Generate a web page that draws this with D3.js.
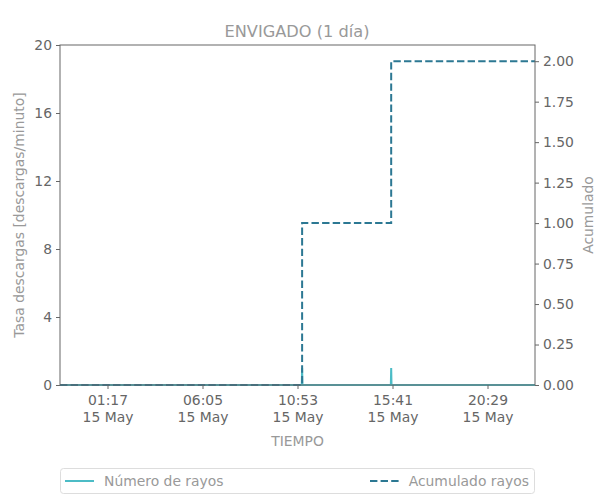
<!DOCTYPE html>
<html><head><meta charset="utf-8">
<script src="https://cdn.jsdelivr.net/npm/d3@7"></script>
<style>body{margin:0;background:#fff}svg, svg text{font-family:"DejaVu Sans",sans-serif}</style>
</head><body><svg id="c" width="600" height="500"></svg>
<script>
const title = "ENVIGADO (1 día)";
const domainTimes = ["2024-05-14T22:53", "2024-05-15T22:53"];
const rateTimes = ["2024-05-14T22:53","2024-05-15T11:06","2024-05-15T11:07","2024-05-15T11:08","2024-05-15T15:36","2024-05-15T15:37","2024-05-15T15:38","2024-05-15T22:53"];
const rateValues = [0,0,1,0,0,1,0,0];
const cumTimes = ["2024-05-14T22:53","2024-05-15T11:07","2024-05-15T15:37","2024-05-15T22:53"];
const cumValues = [0,1,2,2];
const xTickTimes = ["2024-05-15T01:17","2024-05-15T06:05","2024-05-15T10:53","2024-05-15T15:41","2024-05-15T20:29"];
const leftTicks = [0,4,8,12,16,20];
const rightTicks = [0,0.25,0.5,0.75,1,1.25,1.5,1.75,2];
const seriesNames = ["Número de rayos","Acumulado rayos"];

const parse = d3.timeParse("%Y-%m-%dT%H:%M");
const svg = d3.select("#c");
const FF = "DejaVu Sans";
const FS = "13.9px";
const m = {l:60, r:535, t:45, b:385};
const x = d3.scaleTime().domain(domainTimes.map(parse)).range([m.l, m.r]);
const yL = d3.scaleLinear().domain([0,20]).range([m.b, m.t]);
const yR = d3.scaleLinear().domain([0,2.1]).range([m.b, m.t]);
const axisCol = "#666", textCol = "#666", labCol = "#999";
const c1 = "#4cbcc6", c2 = "#2c7893";
const dash = "7.4,3.2";

// lines
const rate = rateTimes.map((t,i)=>({t:parse(t), v:rateValues[i]}));
const cum = cumTimes.map((t,i)=>({t:parse(t), v:cumValues[i]}));
svg.append("path").datum(rate).attr("fill","none").attr("stroke",c1).attr("stroke-width",2)
  .attr("d", d3.line().x(d=>x(d.t)).y(d=>yL(d.v)));
svg.append("path").datum(cum).attr("fill","none").attr("stroke",c2).attr("stroke-width",2)
  .attr("stroke-dasharray",dash)
  .attr("d", d3.line().curve(d3.curveStepAfter).x(d=>x(d.t)).y(d=>yR(d.v)));

// frame
svg.append("rect").attr("x",m.l).attr("y",m.t).attr("width",m.r-m.l).attr("height",m.b-m.t)
  .attr("fill","none").attr("stroke",axisCol).attr("stroke-width",1);

function style(g){
  g.attr("font-family",FF).attr("font-size",null);
  g.select(".domain").remove();
  g.selectAll(".tick line").attr("stroke",axisCol);
  g.selectAll(".tick text").attr("fill",textCol).style("font-size",FS).style("font-family",FF);
}
const fmtL = d3.format("d"), fmtR = d3.format(".2f");
svg.append("g").attr("transform",`translate(${m.l},0)`)
  .call(d3.axisLeft(yL).tickValues(leftTicks).tickFormat(fmtL).tickSize(4).tickPadding(4)).call(style);
svg.append("g").attr("transform",`translate(${m.r},0)`)
  .call(d3.axisRight(yR).tickValues(rightTicks).tickFormat(fmtR).tickSize(4).tickPadding(4)).call(style);
const fmtT = d3.timeFormat("%H:%M"), fmtD = d3.timeFormat("%d %b");
const gx = svg.append("g").attr("transform",`translate(0,${m.b})`)
  .call(d3.axisBottom(x).tickValues(xTickTimes.map(parse)).tickFormat("").tickSize(4));
style(gx);
gx.selectAll(".tick").each(function(d){
  const t = d3.select(this);
  t.append("text").attr("y",20).attr("text-anchor","middle").attr("fill",textCol).style("font-size",FS).style("font-family",FF).text(fmtT(d));
  t.append("text").attr("y",37).attr("text-anchor","middle").attr("fill",textCol).style("font-size",FS).style("font-family",FF).text(fmtD(d));
});

function txt(){ return svg.append("text").style("font-family",FF).attr("fill",labCol).style("font-size",FS); }
// titles
txt().attr("x",297).attr("y",37).attr("text-anchor","middle").style("font-size","16.2px").text(title);
txt().attr("x",(m.l+m.r)/2).attr("y",446).attr("text-anchor","middle").text("TIEMPO");
txt().attr("transform",`translate(24,${(m.t+m.b)/2}) rotate(-90)`).attr("text-anchor","middle")
  .text("Tasa descargas [descargas/minuto]");
txt().attr("transform",`translate(593,${(m.t+m.b)/2}) rotate(-90)`).attr("text-anchor","middle")
  .text("Acumulado");

// legend
svg.append("rect").attr("x",60.5).attr("y",468.5).attr("width",474).attr("height",25).attr("rx",3)
  .attr("fill","#fff").attr("stroke","#ddd");
svg.append("line").attr("x1",65).attr("x2",94).attr("y1",481).attr("y2",481).attr("stroke",c1).attr("stroke-width",2);
txt().attr("x",104).attr("y",486).text(seriesNames[0]);
svg.append("line").attr("x1",370).attr("x2",399).attr("y1",481).attr("y2",481).attr("stroke",c2).attr("stroke-width",2)
  .attr("stroke-dasharray",dash);
txt().attr("x",529).attr("y",486).attr("text-anchor","end").text(seriesNames[1]);
</script></body></html>
